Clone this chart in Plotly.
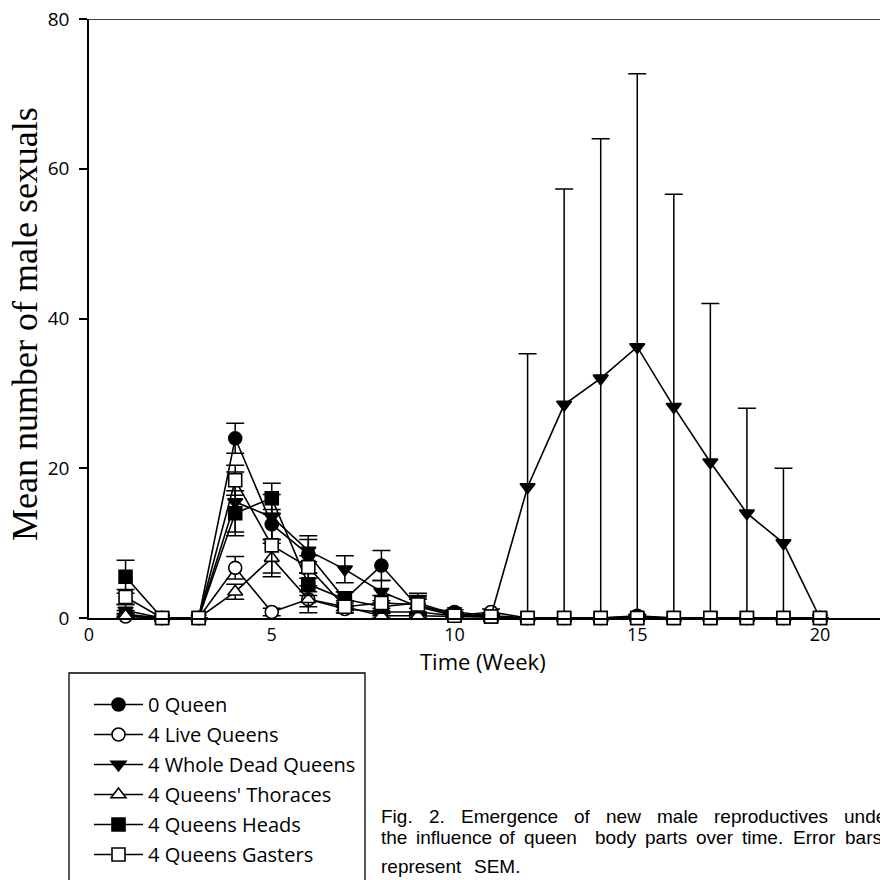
import plotly.graph_objects as go

weeks = list(range(1, 21))

names = ["0 Queen", "4 Live Queens", "4 Whole Dead Queens",
         "4 Queens' Thoraces", "4 Queens Heads", "4 Queens Gasters"]

q0     = [0.5, 0, 0, 24.0, 12.5, 8.5, 2.5, 7.0, 1.5, 0.8, 0.3, 0, 0, 0, 0.3, 0, 0, 0, 0, 0]
q0_err = [0.5, 0, 0, 2.0, 2.0, 2.5, 1.0, 2.0, 1.0, 0.3, 0.2, 0, 0, 0, 0.2, 0, 0, 0, 0, 0]

live     = [0.2, 0, 0, 6.7, 0.8, 2.5, 1.2, 0.8, 0.8, 0.3, 0.8, 0, 0, 0, 0.2, 0, 0, 0, 0, 0]
live_err = [0.2, 0, 0, 1.5, 0.5, 1.0, 0.5, 0.5, 0.5, 0.2, 0.4, 0, 0, 0, 0.2, 0, 0, 0, 0, 0]

dead     = [1.0, 0, 0, 15.5, 13.5, 9.0, 6.5, 3.5, 1.5, 0.3, 0.3, 17.5, 28.5, 32.0, 36.2, 28.2, 20.8, 14.0, 10.0, 0]
dead_err = [0.8, 0, 0, 4.0, 3.0, 1.5, 1.8, 1.5, 1.5, 0.3, 0.3, 17.8, 28.8, 32.0, 36.5, 28.4, 21.2, 14.0, 10.0, 0]

thor     = [0.3, 0, 0, 3.5, 8.0, 2.5, 1.5, 0.3, 0.3, 0.2, 0, 0, 0, 0, 0, 0, 0, 0, 0, 0]
thor_err = [0.3, 0, 0, 1.0, 2.0, 1.8, 0.5, 0.3, 0.3, 0.2, 0, 0, 0, 0, 0, 0, 0, 0, 0, 0]

heads     = [5.5, 0, 0, 14.0, 16.0, 4.5, 2.5, 1.5, 2.0, 0.5, 0.2, 0, 0, 0, 0, 0, 0, 0, 0, 0]
heads_err = [2.2, 0, 0, 3.0, 2.0, 1.5, 1.0, 0.8, 1.3, 0.3, 0.2, 0, 0, 0, 0, 0, 0, 0, 0, 0]

gast     = [2.8, 0, 0, 18.4, 9.7, 6.8, 1.5, 2.0, 1.8, 0.3, 0.2, 0, 0, 0, 0, 0, 0, 0, 0, 0]
gast_err = [1.0, 0, 0, 2.0, 4.2, 1.5, 0.8, 1.0, 1.0, 0.3, 0.2, 0, 0, 0, 0, 0, 0, 0, 0, 0]

caption_lines = [
    ["Fig.", "2.", "Emergence", "of", "new", "male", "reproductives", "under"],
    ["the", "influence", "of", "queen", "body", "parts", "over", "time.", "Error", "bars"],
    ["represent", "SEM."],
]

series = [
    (names[0], q0, q0_err, "circle", "black"),
    (names[1], live, live_err, "circle", "white"),
    (names[2], dead, dead_err, "triangle-down", "black"),
    (names[3], thor, thor_err, "triangle-up", "white"),
    (names[4], heads, heads_err, "square", "black"),
    (names[5], gast, gast_err, "square", "white"),
]

fig = go.Figure()
for i, (nm, ys, es, sym, fill) in enumerate(series):
    minus = [min(e, y) for e, y in zip(es, ys)]
    fig.add_trace(go.Scatter(
        x=weeks, y=ys, name=nm, mode="lines+markers",
        legendgroup=f"g{i}",
        line=dict(color="black", width=1.6),
        marker=dict(symbol=sym, size=13, color=fill,
                    line=dict(color="black", width=1.6)),
        error_y=dict(type="data", array=es, arrayminus=minus, visible=True,
                     color="black", thickness=1.5, width=9),
        cliponaxis=False,
    ))

# page has an 8px body margin; layout numbers below are screen pixels
OFF = 8
W, H = 888 - OFF, 880 - OFF
L, T = 89 - OFF, 19 - OFF
B = H - (618 - OFF)
pw, ph = W - L, H - T - B

def px(xs):
    return (xs - OFF - L) / pw

def py(ys):
    return (H - B - (ys - OFF)) / ph

annotations = [
    dict(text="Time (Week)", x=px(483), y=py(661), xref="paper", yref="paper",
         showarrow=False, xanchor="center", yanchor="middle", borderpad=0,
         font=dict(family="Open Sans", size=22, color="black")),
    dict(text="Mean number of male sexuals", x=px(25), y=py(324), xref="paper", yref="paper",
         showarrow=False, xanchor="center", yanchor="middle", textangle=-90, borderpad=0,
         font=dict(family="Liberation Serif", size=36, color="black")),
]

cap_x = [
    [379, 427, 459, 572, 604, 655, 712, 842],
    [379, 414, 497, 522, 593, 643, 694, 740, 791, 843],
    [379, 472],
]
cap_y = [816, 838, 866]
for words, xs, yc in zip(caption_lines, cap_x, cap_y):
    for w, xl in zip(words, xs):
        annotations.append(dict(text=w, x=px(xl), y=py(yc), xref="paper", yref="paper",
                                showarrow=False, xanchor="left", yanchor="middle",
                                font=dict(family="Liberation Sans", size=19, color="black")))

fig.update_layout(
    width=W, height=H,
    margin=dict(l=L, r=0, t=T, b=B, autoexpand=False),
    paper_bgcolor="white", plot_bgcolor="white",
    font=dict(family="Open Sans", color="black"),
    showlegend=True,
    legend=dict(x=px(89), y=py(685), xanchor="left", yanchor="top",
                borderwidth=0, bgcolor="rgba(0,0,0,0)",
                font=dict(family="Open Sans", size=20, color="black"),
                traceorder="grouped", tracegroupgap=1, itemwidth=49),
    xaxis=dict(range=[0, 799 / 36.55], tickvals=[0, 5, 10, 15, 20], ticks="",
               showgrid=False, zeroline=False, showline=True, linecolor="black",
               linewidth=1.5, ticklabeloverflow="allow",
               tickfont=dict(family="Open Sans", size=18, color="black")),
    yaxis=dict(range=[0, 80], tickvals=[0, 20, 40, 60, 80], ticks="outside", ticklen=8,
               tickwidth=1.5, tickcolor="black", showgrid=False, zeroline=False,
               showline=True, linecolor="black", linewidth=1.5, ticklabelstandoff=6,
               ticklabeloverflow="allow",
               tickfont=dict(family="Open Sans", size=19, color="black")),
    annotations=annotations,
    shapes=[
        dict(type="line", xref="paper", yref="y", x0=0, x1=1, y0=80, y1=80,
             line=dict(color="black", width=1.5)),
        dict(type="rect", xref="paper", yref="paper",
             x0=px(69), x1=px(365), y0=py(673), y1=py(905),
             line=dict(color="black", width=1.3)),
    ],
)

fig.write_html("out.html")
